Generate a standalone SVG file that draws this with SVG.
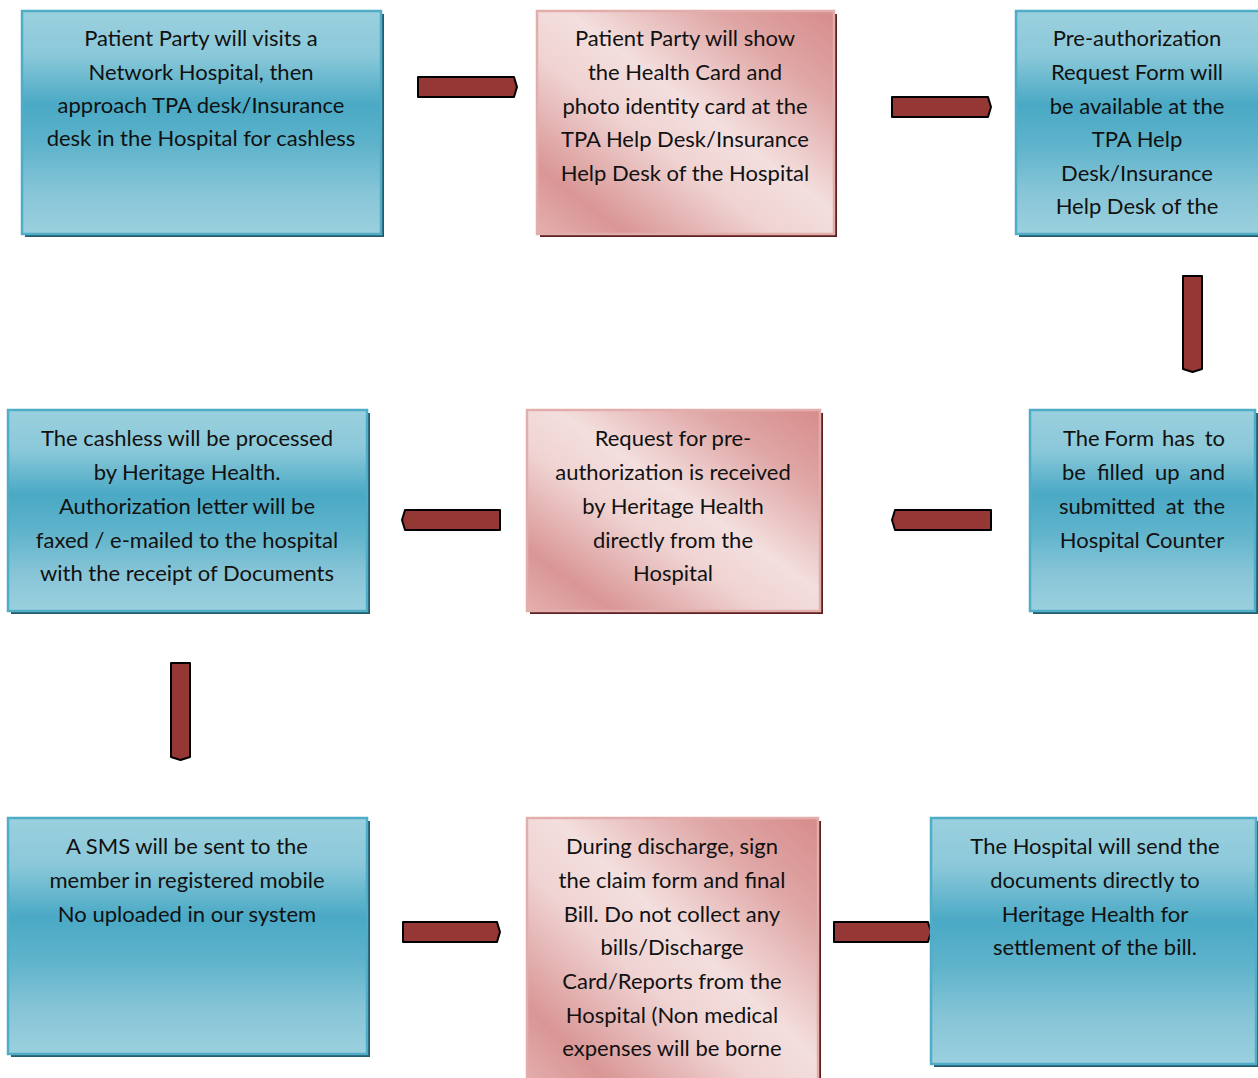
<svg xmlns="http://www.w3.org/2000/svg" width="1258" height="1078" viewBox="0 0 1258 1078">
<style>
.t{font-family:Lato,"Open Sans","Liberation Sans",sans-serif;font-size:22px;fill:#111;text-anchor:middle}
.tl{font-family:Lato,"Open Sans","Liberation Sans",sans-serif;font-size:22px;fill:#111}
.e{text-anchor:end}
.blue{fill:url(#gb);stroke:#4fadc7;stroke-width:2.5}
.pink{fill:url(#gp);stroke:#e2aeac;stroke-width:2.5}
.sb{fill:#245c6b}
.sp{fill:#5e1f1e}
.arr{fill:#953735;stroke:#000;stroke-width:2;stroke-linejoin:round}
</style>
<defs>
<linearGradient id="gb" x1="0" y1="0" x2="0" y2="1">
<stop offset="0" stop-color="#9bd0de"/>
<stop offset="0.2" stop-color="#8ac8d9"/>
<stop offset="0.42" stop-color="#4aa9c5"/>
<stop offset="0.6" stop-color="#5eb3cb"/>
<stop offset="0.8" stop-color="#85c4d6"/>
<stop offset="1" stop-color="#9bd0de"/>
</linearGradient>
<linearGradient id="gp" x1="1" y1="0" x2="0" y2="1">
<stop offset="0" stop-color="#d68c8b"/>
<stop offset="0.2" stop-color="#dfa6a5"/>
<stop offset="0.45" stop-color="#f3dfde"/>
<stop offset="0.6" stop-color="#efd3d2"/>
<stop offset="0.85" stop-color="#d99695"/>
<stop offset="1" stop-color="#e4afae"/>
</linearGradient>
</defs>

<g id="connectors">
<path class="arr" d="M418,77 H514 L517,87 L514,97 H418 Z"/>
<path class="arr" d="M892,97 H988 L991,107 L988,117 H892 Z"/>
<path class="arr" d="M1183,276 H1202 V369 L1192.5,372 L1183,369 Z"/>
<path class="arr" d="M991,510 H895 L892,520 L895,530 H991 Z"/>
<path class="arr" d="M500,510 H405 L402,520 L405,530 H500 Z"/>
<path class="arr" d="M171,663 H190 V757 L180.5,760 L171,757 Z"/>
<path class="arr" d="M403,922 H497 L500,932 L497,942 H403 Z"/>
<path class="arr" d="M834,922 H928 L931,932 L928,942 H834 Z"/>
</g>

<g id="n1">
<rect class="sb" x="25" y="14" width="359" height="223"/>
<rect class="blue" x="22" y="11" width="359" height="223"/>
<text class="t" x="201" y="46">Patient Party will visits a</text>
<text class="t" x="201" y="80">Network Hospital, then</text>
<text class="t" x="201" y="113">approach TPA desk/Insurance</text>
<text class="t" x="201" y="146">desk in the Hospital for cashless</text>
</g>

<g id="n2">
<rect class="sp" x="540" y="14" width="297" height="223"/>
<rect class="pink" x="537" y="11" width="297" height="223"/>
<text class="t" x="685" y="46">Patient Party will show</text>
<text class="t" x="685" y="80">the Health Card and</text>
<text class="t" x="685" y="114">photo identity card at the</text>
<text class="t" x="685" y="147">TPA Help Desk/Insurance</text>
<text class="t" x="685" y="181">Help Desk of the Hospital</text>
</g>

<g id="n3">
<rect class="sb" x="1019" y="14" width="245" height="223"/>
<rect class="blue" x="1016" y="11" width="245" height="223"/>
<text class="t" x="1137" y="46">Pre-authorization</text>
<text class="t" x="1137" y="80">Request Form will</text>
<text class="t" x="1137" y="114">be available at the</text>
<text class="t" x="1137" y="147">TPA Help</text>
<text class="t" x="1137" y="181">Desk/Insurance</text>
<text class="t" x="1137" y="214">Help Desk of the</text>
</g>

<g id="n4">
<rect class="sb" x="1033" y="413" width="225" height="201"/>
<rect class="blue" x="1030" y="410" width="225" height="201"/>
<text class="tl" y="446"><tspan x="1063">The</tspan><tspan x="1104">Form</tspan><tspan x="1162">has</tspan><tspan x="1225" class="e">to</tspan></text>
<text class="tl" y="480"><tspan x="1062">be</tspan><tspan x="1097">filled</tspan><tspan x="1155">up</tspan><tspan x="1225" class="e">and</tspan></text>
<text class="tl" x="1059" y="514">submitted</text>
<text class="t" x="1175" y="514">at</text>
<text class="tl e" x="1225" y="514">the</text>
<text class="t" x="1142" y="548">Hospital Counter</text>
</g>

<g id="n5">
<rect class="sp" x="530" y="413" width="293" height="201"/>
<rect class="pink" x="527" y="410" width="293" height="201"/>
<text class="t" x="673" y="446">Request for pre-</text>
<text class="t" x="673" y="480">authorization is received</text>
<text class="t" x="673" y="514">by Heritage Health</text>
<text class="t" x="673" y="548">directly from the</text>
<text class="t" x="673" y="581">Hospital</text>
</g>

<g id="n6">
<rect class="sb" x="11" y="413" width="359" height="201"/>
<rect class="blue" x="8" y="410" width="359" height="201"/>
<text class="t" x="187" y="446">The cashless will be processed</text>
<text class="t" x="187" y="480">by Heritage Health.</text>
<text class="t" x="187" y="514">Authorization letter will be</text>
<text class="t" x="187" y="548">faxed / e-mailed to the hospital</text>
<text class="t" x="187" y="581">with the receipt of Documents</text>
</g>

<g id="n7">
<rect class="sb" x="11" y="821" width="359" height="236"/>
<rect class="blue" x="8" y="818" width="359" height="236"/>
<text class="t" x="187" y="854">A SMS will be sent to the</text>
<text class="t" x="187" y="888">member in registered mobile</text>
<text class="t" x="187" y="922">No uploaded in our system</text>
</g>

<g id="n8">
<rect class="sp" x="530" y="821" width="291" height="270"/>
<rect class="pink" x="527" y="818" width="291" height="270"/>
<text class="t" x="672" y="854">During discharge, sign</text>
<text class="t" x="672" y="888">the claim form and final</text>
<text class="t" x="672" y="922">Bill. Do not collect any</text>
<text class="t" x="672" y="955">bills/Discharge</text>
<text class="t" x="672" y="989">Card/Reports from the</text>
<text class="t" x="672" y="1023">Hospital (Non medical</text>
<text class="t" x="672" y="1056">expenses will be borne</text>
</g>

<g id="n9">
<rect class="sb" x="934" y="821" width="325" height="246"/>
<rect class="blue" x="931" y="818" width="325" height="246"/>
<text class="t" x="1095" y="854">The Hospital will send the</text>
<text class="t" x="1095" y="888">documents directly to</text>
<text class="t" x="1095" y="922">Heritage Health for</text>
<text class="t" x="1095" y="955">settlement of the bill.</text>
</g>
</svg>
